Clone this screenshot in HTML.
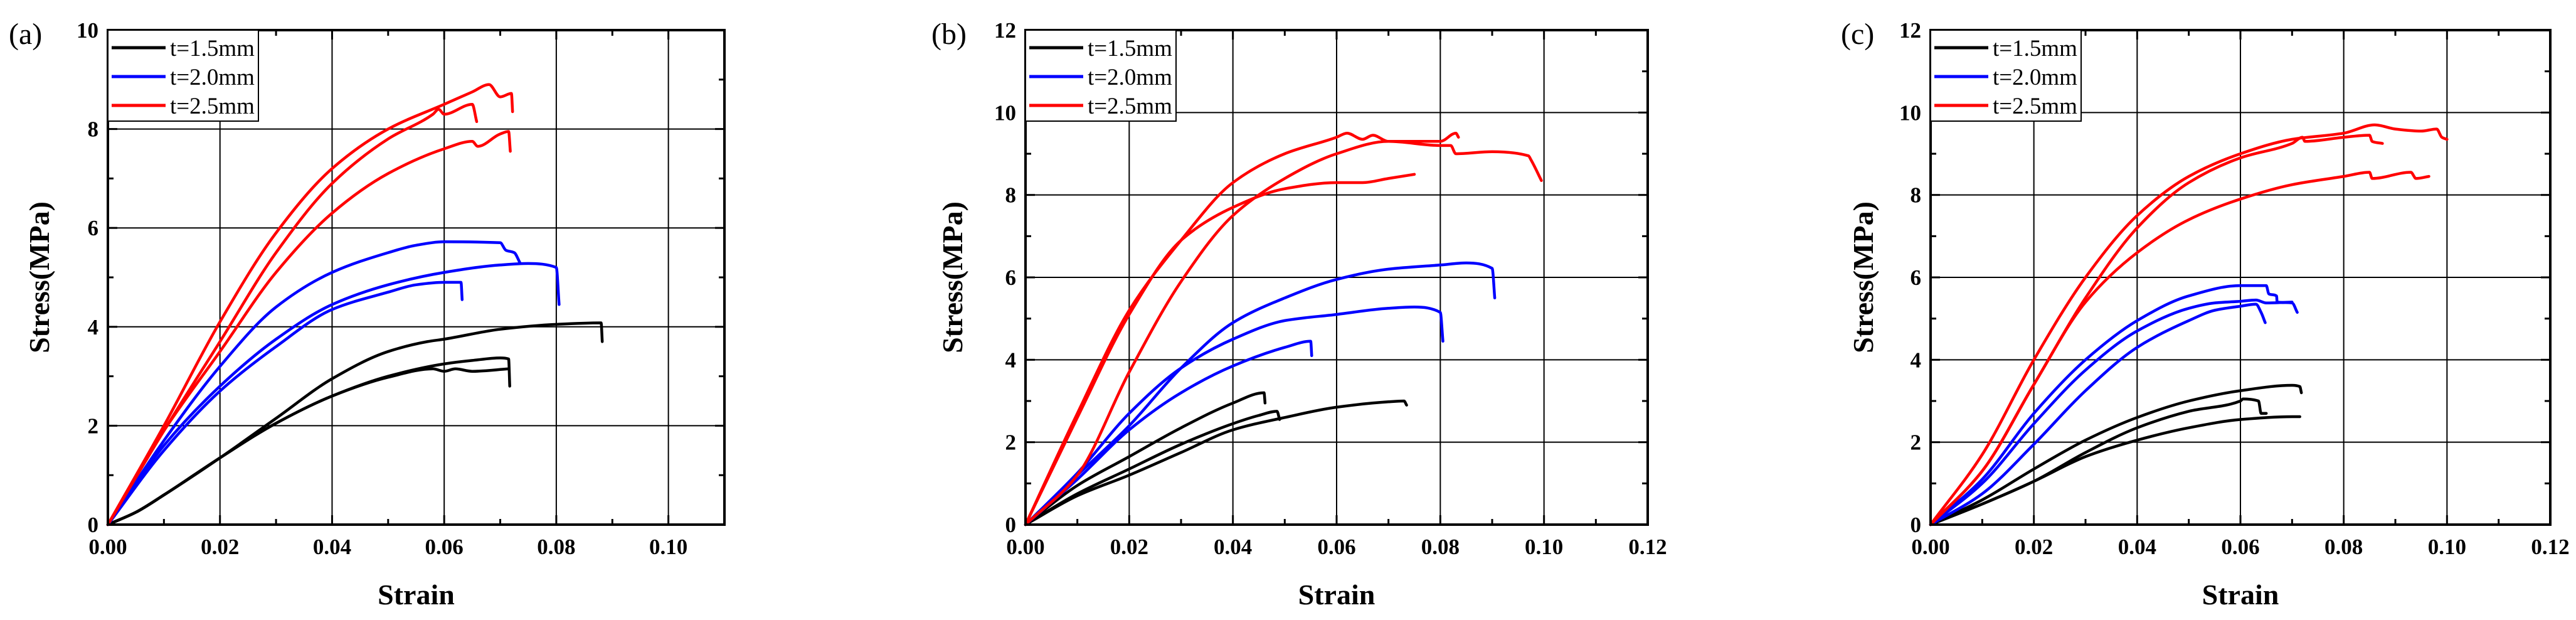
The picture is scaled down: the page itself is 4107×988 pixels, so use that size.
<!DOCTYPE html>
<html><head><meta charset="utf-8">
<style>
html,body{margin:0;padding:0;background:#fff;}
svg{display:block;}
text{font-family:"Liberation Serif",serif;}
</style></head>
<body>
<svg id="fig" width="4107" height="988" viewBox="0 0 4107 988" xmlns="http://www.w3.org/2000/svg"></svg>
<script>
// ---------- DATA ----------
// Panel (a)
const aBlack1=[[0,0],[0.005,0.25],[0.01,0.6],[0.02,1.35],[0.03,2.15],[0.04,2.95],[0.05,3.5],[0.057,3.7],[0.06,3.75],[0.07,3.95],[0.08,4.05],[0.088,4.08],[0.0882,3.7]];
const aBlack2=[[0,0],[0.005,0.25],[0.01,0.6],[0.02,1.35],[0.03,2.05],[0.04,2.6],[0.05,3.0],[0.06,3.25],[0.065,3.32],[0.07,3.37],[0.0715,3.35],[0.0717,2.8]];
const aBlack3=[[0,0],[0.005,0.25],[0.01,0.6],[0.02,1.35],[0.03,2.05],[0.04,2.6],[0.05,2.98],[0.058,3.15],[0.06,3.1],[0.062,3.15],[0.065,3.1],[0.0715,3.15]];
const aBlue1=[[0,0],[0.01,1.7],[0.02,3.2],[0.03,4.4],[0.04,5.1],[0.05,5.5],[0.055,5.65],[0.06,5.72],[0.07,5.7],[0.071,5.55],[0.0725,5.5],[0.0735,5.3]];
const aBlue2=[[0,0],[0.01,1.6],[0.02,2.8],[0.03,3.75],[0.04,4.45],[0.05,4.85],[0.06,5.1],[0.07,5.25],[0.075,5.28],[0.08,5.2],[0.0805,4.45]];
const aBlue3=[[0,0],[0.01,1.5],[0.02,2.7],[0.03,3.6],[0.04,4.35],[0.05,4.7],[0.055,4.85],[0.06,4.9],[0.063,4.9],[0.0632,4.55]];
const aRed1=[[0,0],[0.01,2.0],[0.02,4.1],[0.03,5.9],[0.04,7.2],[0.05,8.0],[0.06,8.5],[0.065,8.75],[0.068,8.9],[0.07,8.65],[0.072,8.72],[0.0722,8.35]];
const aRed2=[[0,0],[0.01,1.9],[0.02,3.7],[0.03,5.5],[0.04,6.9],[0.05,7.8],[0.058,8.3],[0.059,8.4],[0.06,8.3],[0.065,8.5],[0.0658,8.15]];
const aRed3=[[0,0],[0.01,1.9],[0.02,3.5],[0.03,5.1],[0.04,6.3],[0.05,7.1],[0.06,7.6],[0.065,7.75],[0.066,7.65],[0.07,7.9],[0.0715,7.95],[0.0718,7.55]];
// Panel (b)
const bBlack1=[[0,0],[0.01,0.95],[0.02,1.65],[0.03,2.35],[0.04,2.95],[0.046,3.2],[0.0462,2.95]];
const bBlack2=[[0,0],[0.01,0.75],[0.02,1.35],[0.03,1.95],[0.04,2.45],[0.045,2.65],[0.0485,2.75],[0.049,2.55]];
const bBlack3=[[0,0],[0.01,0.7],[0.02,1.2],[0.03,1.75],[0.04,2.3],[0.05,2.6],[0.06,2.85],[0.07,2.98],[0.073,3.0],[0.0735,2.9]];
const bBlue1=[[0,0],[0.01,1.2],[0.02,2.4],[0.03,3.8],[0.04,4.9],[0.05,5.5],[0.06,5.95],[0.07,6.2],[0.08,6.3],[0.085,6.35],[0.09,6.22],[0.0905,5.5]];
const bBlue2=[[0,0],[0.01,1.25],[0.02,2.7],[0.03,3.8],[0.04,4.5],[0.05,4.95],[0.06,5.1],[0.07,5.25],[0.075,5.28],[0.08,5.15],[0.0805,4.45]];
const bBlue3=[[0,0],[0.01,1.1],[0.02,2.3],[0.03,3.2],[0.04,3.85],[0.05,4.3],[0.055,4.45],[0.0552,4.1]];
const bRed1=[[0,0],[0.01,2.7],[0.02,5.2],[0.03,6.9],[0.04,8.3],[0.05,9.0],[0.06,9.4],[0.062,9.5],[0.065,9.35],[0.067,9.45],[0.07,9.3],[0.08,9.3],[0.083,9.5],[0.0835,9.4]];
const bRed2=[[0,0],[0.01,1.2],[0.02,3.7],[0.03,5.9],[0.04,7.5],[0.05,8.4],[0.06,9.0],[0.07,9.3],[0.08,9.2],[0.082,9.2],[0.083,9.0],[0.09,9.05],[0.097,8.95],[0.0975,8.85],[0.0995,8.35]];
const bRed3=[[0,0],[0.01,2.6],[0.02,5.1],[0.03,6.9],[0.04,7.7],[0.05,8.15],[0.06,8.3],[0.065,8.3],[0.07,8.4],[0.075,8.5]];
// Panel (c)
const cBlack1=[[0,0],[0.01,0.6],[0.02,1.35],[0.03,2.05],[0.04,2.6],[0.05,3.0],[0.06,3.25],[0.07,3.38],[0.0715,3.35],[0.0718,3.2]];
const cBlack2=[[0,0],[0.01,0.5],[0.02,1.05],[0.03,1.75],[0.04,2.35],[0.05,2.75],[0.06,3.0],[0.0605,3.05],[0.0635,3.0],[0.064,2.7],[0.065,2.7]];
const cBlack3=[[0,0],[0.01,0.5],[0.02,1.05],[0.03,1.65],[0.04,2.05],[0.05,2.35],[0.06,2.55],[0.07,2.62],[0.0715,2.62]];
const cBlue1=[[0,0],[0.01,1.1],[0.02,2.7],[0.03,4.0],[0.04,4.95],[0.05,5.55],[0.06,5.8],[0.065,5.8],[0.0655,5.6],[0.067,5.55],[0.0671,5.4],[0.07,5.38],[0.071,5.15]];
const cBlue2=[[0,0],[0.01,1.0],[0.02,2.45],[0.03,3.75],[0.04,4.7],[0.05,5.25],[0.055,5.38],[0.06,5.42],[0.063,5.45],[0.065,5.38],[0.07,5.4]];
const cBlue3=[[0,0],[0.01,0.75],[0.02,1.95],[0.03,3.25],[0.04,4.3],[0.05,4.95],[0.055,5.2],[0.06,5.3],[0.063,5.35],[0.064,5.15],[0.0648,4.9]];
const cRed1=[[0,0],[0.01,1.7],[0.02,4.0],[0.03,6.0],[0.04,7.5],[0.05,8.45],[0.06,9.0],[0.07,9.35],[0.08,9.5],[0.086,9.7],[0.09,9.6],[0.095,9.55],[0.098,9.6],[0.099,9.4],[0.1,9.35]];
const cRed2=[[0,0],[0.01,1.3],[0.02,3.4],[0.03,5.5],[0.04,7.2],[0.05,8.3],[0.06,8.9],[0.07,9.25],[0.072,9.4],[0.0725,9.3],[0.08,9.4],[0.085,9.45],[0.0855,9.3],[0.0875,9.25]];
const cRed3=[[0,0],[0.01,1.3],[0.02,3.4],[0.03,5.4],[0.04,6.6],[0.05,7.4],[0.06,7.9],[0.07,8.25],[0.08,8.45],[0.085,8.55],[0.0855,8.4],[0.093,8.55],[0.094,8.4],[0.0965,8.45]];

const panelLabels=["(a)","(b)","(c)"];
const legendLabels=["t=1.5mm","t=2.0mm","t=2.5mm"];
const aXTicks=[0,0.02,0.04,0.06,0.08,0.10];
const bXTicks=[0,0.02,0.04,0.06,0.08,0.10,0.12];
const cXTicks=[0,0.02,0.04,0.06,0.08,0.10,0.12];
const aYTicks=[0,2,4,6,8,10];
const bYTicks=[0,2,4,6,8,10,12];
const cYTicks=[0,2,4,6,8,10,12];

// ---------- DRAW ----------
const NS="http://www.w3.org/2000/svg";
const svg=document.getElementById("fig");
function mk(tag,attrs,parent){const e=document.createElementNS(NS,tag);for(const k in attrs)e.setAttribute(k,attrs[k]);(parent||svg).appendChild(e);return e;}
const COLORS=["#000000","#0000ff","#ff0000"];

// monotone-x cubic path (like d3.curveMonotoneX)
function monoPath(P){
  const n=P.length; if(n<2) return "";
  const dx=[],m=[],t=new Array(n);
  for(let i=0;i<n-1;i++){dx[i]=P[i+1][0]-P[i][0];m[i]=dx[i]>0?(P[i+1][1]-P[i][1])/dx[i]:0;}
  t[0]=m[0];t[n-1]=m[n-2];
  for(let i=1;i<n-1;i++){
    if(m[i-1]*m[i]<=0)t[i]=0;
    else{const w1=2*dx[i]+dx[i-1],w2=dx[i]+2*dx[i-1];t[i]=(w1+w2)/(w1/m[i-1]+w2/m[i]);}
  }
  let d="M"+P[0][0].toFixed(1)+","+P[0][1].toFixed(1);
  for(let i=0;i<n-1;i++){
    const h=dx[i]/3;
    d+=" C"+(P[i][0]+h).toFixed(1)+","+(P[i][1]+h*t[i]).toFixed(1)+" "+(P[i+1][0]-h).toFixed(1)+","+(P[i+1][1]-h*t[i+1]).toFixed(1)+" "+P[i+1][0].toFixed(1)+","+P[i+1][1].toFixed(1);
  }
  return d;
}

const panels=[
 {key:"a",L:172,R:1155,T:48,B:836,xmax:0.11,ymax:10,xt:aXTicks,yt:aYTicks,series:[[aBlack1,aBlack2,aBlack3],[aBlue1,aBlue2,aBlue3],[aRed1,aRed2,aRed3]],ylx:62,plx:14},
 {key:"b",L:1635,R:2627,T:48,B:836,xmax:0.12,ymax:12,xt:bXTicks,yt:bYTicks,series:[[bBlack1,bBlack2,bBlack3],[bBlue1,bBlue2,bBlue3],[bRed1,bRed2,bRed3]],ylx:1518,plx:1485},
 {key:"c",L:3078,R:4066,T:48,B:836,xmax:0.12,ymax:12,xt:cXTicks,yt:cYTicks,series:[[cBlack1,cBlack2,cBlack3],[cBlue1,cBlue2,cBlue3],[cRed1,cRed2,cRed3]],ylx:2970,plx:2935}
];

panels.forEach((p,pi)=>{
  const g=mk("g",{});
  
  
  const sx=v=>p.L+(v/p.xmax)*(p.R-p.L);
  const sy=v=>p.B-(v/p.ymax)*(p.B-p.T);
  p.xt.forEach(v=>{ if(v>0&&v<p.xmax-1e-9){const l=mk("line",{x1:sx(v),x2:sx(v),y1:p.T,y2:p.B,stroke:"#000","stroke-width":2},g);
    
    }});
  p.yt.forEach(v=>{ if(v>0&&v<p.ymax){const l=mk("line",{x1:p.L,x2:p.R,y1:sy(v),y2:sy(v),stroke:"#000","stroke-width":2},g);
    
    }});
  for(let v=0;v<=p.xmax+1e-9;v+=0.01){
    const major=Math.abs(Math.round(v/0.02)*0.02-v)<1e-6; const len=major?15:9;
    mk("line",{x1:sx(v),x2:sx(v),y1:p.B,y2:p.B-len,stroke:"#000","stroke-width":3},g);
    mk("line",{x1:sx(v),x2:sx(v),y1:p.T,y2:p.T+len,stroke:"#000","stroke-width":3},g);
  }
  for(let v=0;v<=p.ymax;v+=1){
    const len=(v%2===0)?15:9;
    mk("line",{x1:p.L,x2:p.L+len,y1:sy(v),y2:sy(v),stroke:"#000","stroke-width":3},g);
    mk("line",{x1:p.R,x2:p.R-len,y1:sy(v),y2:sy(v),stroke:"#000","stroke-width":3},g);
  }
  p.series.forEach((grp,ci)=>{
    grp.forEach((pts,si)=>{
      const P=pts.map(d=>[sx(d[0]),sy(d[1])]);
      const pl=mk("path",{d:monoPath(P),fill:"none",stroke:COLORS[ci],"stroke-width":4.5,"stroke-linejoin":"round","stroke-linecap":"round"},g);
      
      
    });
  });
  const fr=mk("rect",{x:p.L,y:p.T,width:p.R-p.L,height:p.B-p.T,fill:"none",stroke:"#000","stroke-width":4},g);
  
  
  p.xt.forEach(v=>{const t=mk("text",{x:sx(v),y:883,"text-anchor":"middle","font-size":35,"font-weight":"bold"},g);t.textContent=v.toFixed(2);
    
    });
  p.yt.forEach(v=>{const t=mk("text",{x:p.L-15,y:sy(v)+12,"text-anchor":"end","font-size":35,"font-weight":"bold"},g);t.textContent=String(v);
    
    });
  const xt=mk("text",{x:(p.L+p.R)/2,y:963,"text-anchor":"middle","font-size":46,"font-weight":"bold"},g);xt.textContent="Strain";
  
  
  const yt=mk("text",{x:0,y:0,"text-anchor":"middle","font-size":46,"font-weight":"bold",transform:"translate("+(p.ylx+16)+","+((p.T+p.B)/2)+") rotate(-90)"},g);yt.textContent="Stress(MPa)";
  
  
  const pl=mk("text",{x:p.plx,y:70,"font-size":48},g);pl.textContent=panelLabels[pi];
  
  
  const lg=mk("g",{},g);
  
  
  mk("rect",{x:p.L,y:p.T,width:240,height:145,fill:"#fff",stroke:"#000","stroke-width":2},lg);
  legendLabels.forEach((lab,i)=>{
    const y=p.T+28+i*46;
    mk("line",{x1:p.L+6,x2:p.L+92,y1:y,y2:y,stroke:COLORS[i],"stroke-width":5},lg);
    const t=mk("text",{x:p.L+99,y:y+13,"font-size":37},lg);t.textContent=lab;
    
    
  });
});
</script>
</body></html>
